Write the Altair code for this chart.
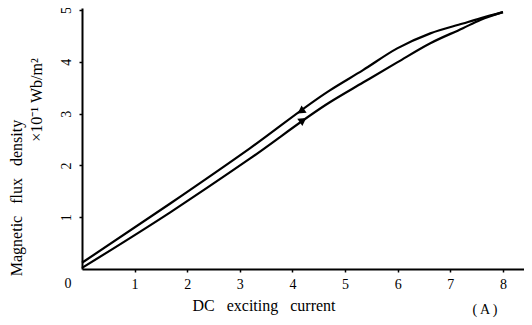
import altair as alt
import pandas as pd

# Ascending branch (lower curve)
asc_x = [0.0, 1.67, 3.19, 4.71, 5.34, 5.99, 6.62, 7.24, 7.57, 8.0]
asc_y = [0.02, 1.09, 2.13, 3.22, 3.60, 3.99, 4.36, 4.65, 4.81, 4.96]
# Descending branch (upper curve)
desc_x = [0.0, 1.67, 3.19, 4.71, 5.34, 5.99, 6.62, 7.24, 7.57, 8.0]
desc_y = [0.12, 1.26, 2.33, 3.45, 3.84, 4.26, 4.55, 4.74, 4.84, 4.96]

# Direction arrows
arrow_x = [4.18, 4.18]
arrow_y = [3.06, 2.86]
arrow_angle = [235, 55]

x_ticks = [1, 2, 3, 4, 5, 6, 7, 8]
y_ticks = [1, 2, 3, 4, 5]

FONT = "Liberation Serif"

df = pd.DataFrame({
    "current": asc_x + desc_x,
    "flux": asc_y + desc_y,
    "branch": ["asc"] * len(asc_x) + ["desc"] * len(desc_x),
})
arrows = pd.DataFrame({"current": arrow_x, "flux": arrow_y, "angle": arrow_angle})

xscale = alt.Scale(domain=[0, 8.4], nice=False, zero=False)
yscale = alt.Scale(domain=[0, 5.04], nice=False, zero=False)

x_axis = alt.Axis(values=x_ticks, format="d", title=None, tickSize=3, labelPadding=5,
                  domainWidth=2, tickWidth=1.5, labelFontSize=14)
y_axis = alt.Axis(values=y_ticks, format="d", title=None, tickSize=3, labelPadding=6,
                  labelAngle=270, labelAlign="center", labelBaseline="bottom",
                  domainWidth=2, tickWidth=1.5, labelFontSize=14)

lines = alt.Chart(df).mark_line(color="black", strokeWidth=2.2,
                                interpolate="monotone", clip=False).encode(
    x=alt.X("current:Q", scale=xscale, axis=x_axis),
    y=alt.Y("flux:Q", scale=yscale, axis=y_axis),
    detail="branch:N",
    order="current:Q",
)

arrow_marks = alt.Chart(arrows).mark_point(shape="triangle", filled=True,
                                           color="black", size=80, opacity=1).encode(
    x=alt.X("current:Q", scale=xscale),
    y=alt.Y("flux:Q", scale=yscale),
    angle=alt.Angle("angle:Q", scale=None),
)

def label(text, x, y, angle=0, size=14, align="center"):
    return alt.Chart(pd.DataFrame({"t": [text]})).mark_text(
        font=FONT, fontSize=size, color="black", angle=angle, align=align,
        baseline="middle").encode(
        text="t:N", x=alt.value(x), y=alt.value(y))

sp = "\u00a0\u00a0\u00a0"
texts = [
    label("0", -14, 276),
    label("Magnetic" + sp + "flux" + sp + "density", -65, 190, angle=270, size=16),
    label("\u00d710\u207b\u00b9\u00a0Wb/m\u00b2", -45, 92, angle=270, size=16),
    label("DC" + sp + "exciting" + sp + "current", 182, 298, size=16),
    label("( A )", 403, 302, size=14),
]

chart = alt.layer(lines, arrow_marks, *texts).properties(
    width=442, height=261,
    autosize=alt.AutoSizeParams(type="none"),
    padding={"left": 74, "top": 0, "right": 0, "bottom": 52},
    background="white",
).configure_view(stroke=None).configure_axis(
    grid=False, domainColor="black", tickColor="black", labelColor="black",
    labelFont=FONT,
)

chart.save("out.html", embed_options={"renderer": "svg", "actions": False})
